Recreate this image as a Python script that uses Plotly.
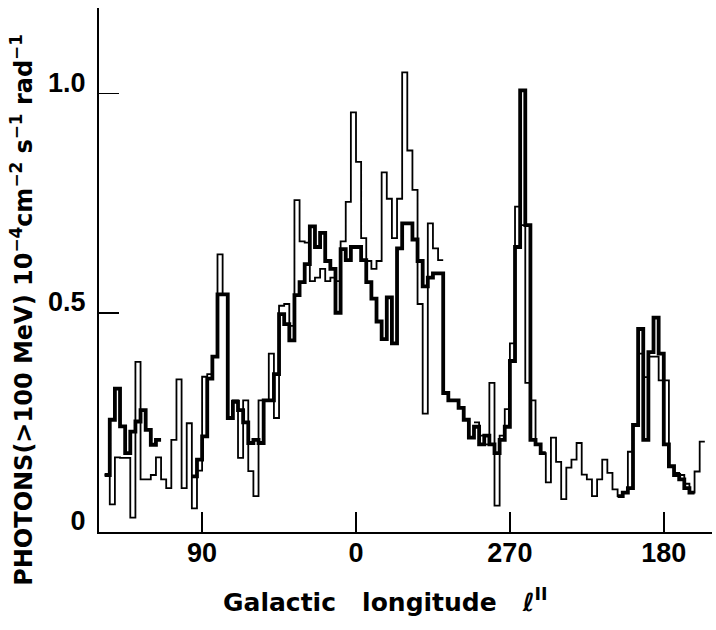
import plotly.graph_objects as go

# Galactic longitude bins: 3 degree wide, running from l=150 downwards through 0/360 to l=150 again
BIN_WIDTH = 3.0
FIRST_EDGE = 150.0
N_BINS = 120

# Intensity (thin histogram), one value per bin, None = no data
thin = [None, 0.13, 0.063, 0.17, 0.169, 0.169, 0.033, 0.388, 0.12, 0.12,
        0.13, 0.17, 0.12, 0.10, 0.21, 0.348, 0.10, 0.248, 0.054, 0.14,
        0.354, 0.36, 0.40, 0.633, 0.54, 0.26, 0.30, 0.169, 0.30, 0.139,
        0.082, 0.30, 0.30, 0.407, 0.26, 0.516, 0.52, 0.47, 0.757, 0.663,
        0.66, 0.572, 0.58, 0.60, 0.572, 0.58, 0.572, 0.663, 0.753, 0.957,
        0.844, 0.67, 0.618, 0.60, 0.618, 0.82, 0.76, 0.67, 0.76, 1.048,
        0.87, 0.78, 0.52, 0.27, 0.704, 0.647, 0.62, None, None, None,
        None, None, None, 0.25, 0.22, 0.20, 0.34, 0.06, 0.22, 0.28,
        0.43, 0.742, 0.70, 0.34, 0.30, 0.20, 0.18, 0.113, 0.215, 0.16,
        0.075, 0.147, 0.165, 0.203, 0.131, 0.12, 0.082, 0.12, 0.165, 0.135,
        0.097, 0.082, 0.09, 0.183, 0.244, 0.407, 0.353, 0.40, 0.40, 0.346,
        0.346, 0.15, 0.135, 0.13, 0.11, 0.09, 0.138, 0.206, None, None]

# Intensity (thick histogram)
thick = [None, 0.13, 0.256, 0.327, 0.241, 0.18, 0.229, 0.252, 0.278, 0.233,
         0.199, 0.21, None, None, None, None, None, None, 0.127, 0.165,
         0.218, 0.35, 0.40, 0.542, 0.542, 0.26, 0.297, 0.278, 0.25, 0.203,
         0.21, 0.203, 0.30, 0.30, 0.36, 0.497, 0.474, 0.437, 0.54, 0.57,
         0.611, 0.697, 0.65, 0.682, 0.618, 0.60, 0.50, 0.645, 0.62, 0.65,
         0.65, 0.62, 0.57, 0.532, 0.48, 0.44, 0.535, 0.43, 0.647, 0.704,
         0.704, 0.667, 0.618, 0.56, 0.58, 0.59, 0.59, 0.317, 0.30, 0.30,
         0.283, 0.256, 0.215, 0.24, 0.20, 0.22, 0.20, 0.18, 0.21, 0.24,
         0.39, 0.65, 1.007, 0.70, 0.21, 0.20, 0.18, None, None, None,
         None, None, None, None, None, None, None, None, None, None,
         None, 0.082, 0.09, 0.10, 0.244, 0.463, 0.21, 0.41, 0.489, 0.407,
         0.20, 0.15, 0.13, 0.12, 0.10, 0.09, None, None, None, None]

tick_positions = [90, 0, -90, -180]
tick_labels = ["90", "0", "270", "180"]
y_tick_values = [0, 0.5, 1.0]
y_tick_labels = ["0", "0.5", "1.0"]

# continuous axis coordinate of each bin edge (longitude unwrapped so it decreases monotonically)
edges = [FIRST_EDGE - BIN_WIDTH * k for k in range(N_BINS + 1)]


def step_path(values):
    xs, ys = [], []
    k = 0
    while k < len(values):
        if values[k] is None:
            k += 1
            continue
        start = k
        while k < len(values) and values[k] is not None:
            k += 1
        for j in range(start, k):
            xs.append(edges[j])
            ys.append(values[j])
        xs.append(edges[k])
        ys.append(values[k - 1])
        xs.append(None)
        ys.append(None)
    return xs, ys


FONT = "Liberation Sans, Arial, sans-serif"
TITLE_FONT = "DejaVu Sans, Liberation Sans, sans-serif"

fig = go.Figure()
tx, ty = step_path(thin)
fig.add_trace(go.Scatter(x=tx, y=ty, mode="lines", line=dict(color="black", width=1.8, shape="hv"),
                         connectgaps=False, showlegend=False, hoverinfo="skip"))
kx, ky = step_path(thick)
fig.add_trace(go.Scatter(x=kx, y=ky, mode="lines", line=dict(color="black", width=3.8, shape="hv"),
                         connectgaps=False, showlegend=False, hoverinfo="skip"))

fig.update_layout(
    template="none",
    width=716, height=630,
    margin=dict(l=99, r=4, t=8, b=98, autoexpand=False),
    paper_bgcolor="white", plot_bgcolor="white",
    showlegend=False,
    xaxis=dict(range=[150.3, -208.2], showgrid=False, zeroline=False, automargin=False,
               showline=True, linecolor="black", linewidth=2,
               ticks="inside", ticklen=20, tickwidth=1.5, tickcolor="black",
               tickvals=tick_positions, ticktext=tick_labels,
               tickfont=dict(family=FONT, size=27, color="black", weight="bold"),
               ticklabelstandoff=-4),
    yaxis=dict(range=[0, 1.195], showgrid=False, zeroline=False, automargin=False,
               showline=True, linecolor="black", linewidth=2,
               ticks="inside", ticklen=20, tickwidth=1.5, tickcolor="black",
               tickvals=y_tick_values, ticktext=y_tick_labels,
               tickfont=dict(family=FONT, size=27, color="black", weight="bold"),
               ticklabelshift=-11, ticklabelstandoff=6),
    annotations=[
        dict(text="PHOTONS(>100 MeV) 10<sup>−4</sup>cm<sup>−2</sup> s<sup>−1</sup> rad<sup>−1</sup>",
             xref="paper", yref="paper", x=0, y=0.424, xshift=-77,
             xanchor="center", yanchor="middle", textangle=-90, showarrow=False,
             font=dict(family=TITLE_FONT, size=24, color="black", weight="bold")),
        dict(text="Galactic\u00a0\u00a0 longitude\u00a0\u00a0 ℓ<sup>II</sup>",
             xref="paper", yref="paper", x=0.467, y=-0.13,
             xanchor="center", yanchor="middle", showarrow=False,
             font=dict(family=TITLE_FONT, size=25, color="black", weight="bold")),
    ],
)

fig.write_html("out.html", config={"displayModeBar": False, "staticPlot": True},
               post_script="document.body.style.margin='0';")
